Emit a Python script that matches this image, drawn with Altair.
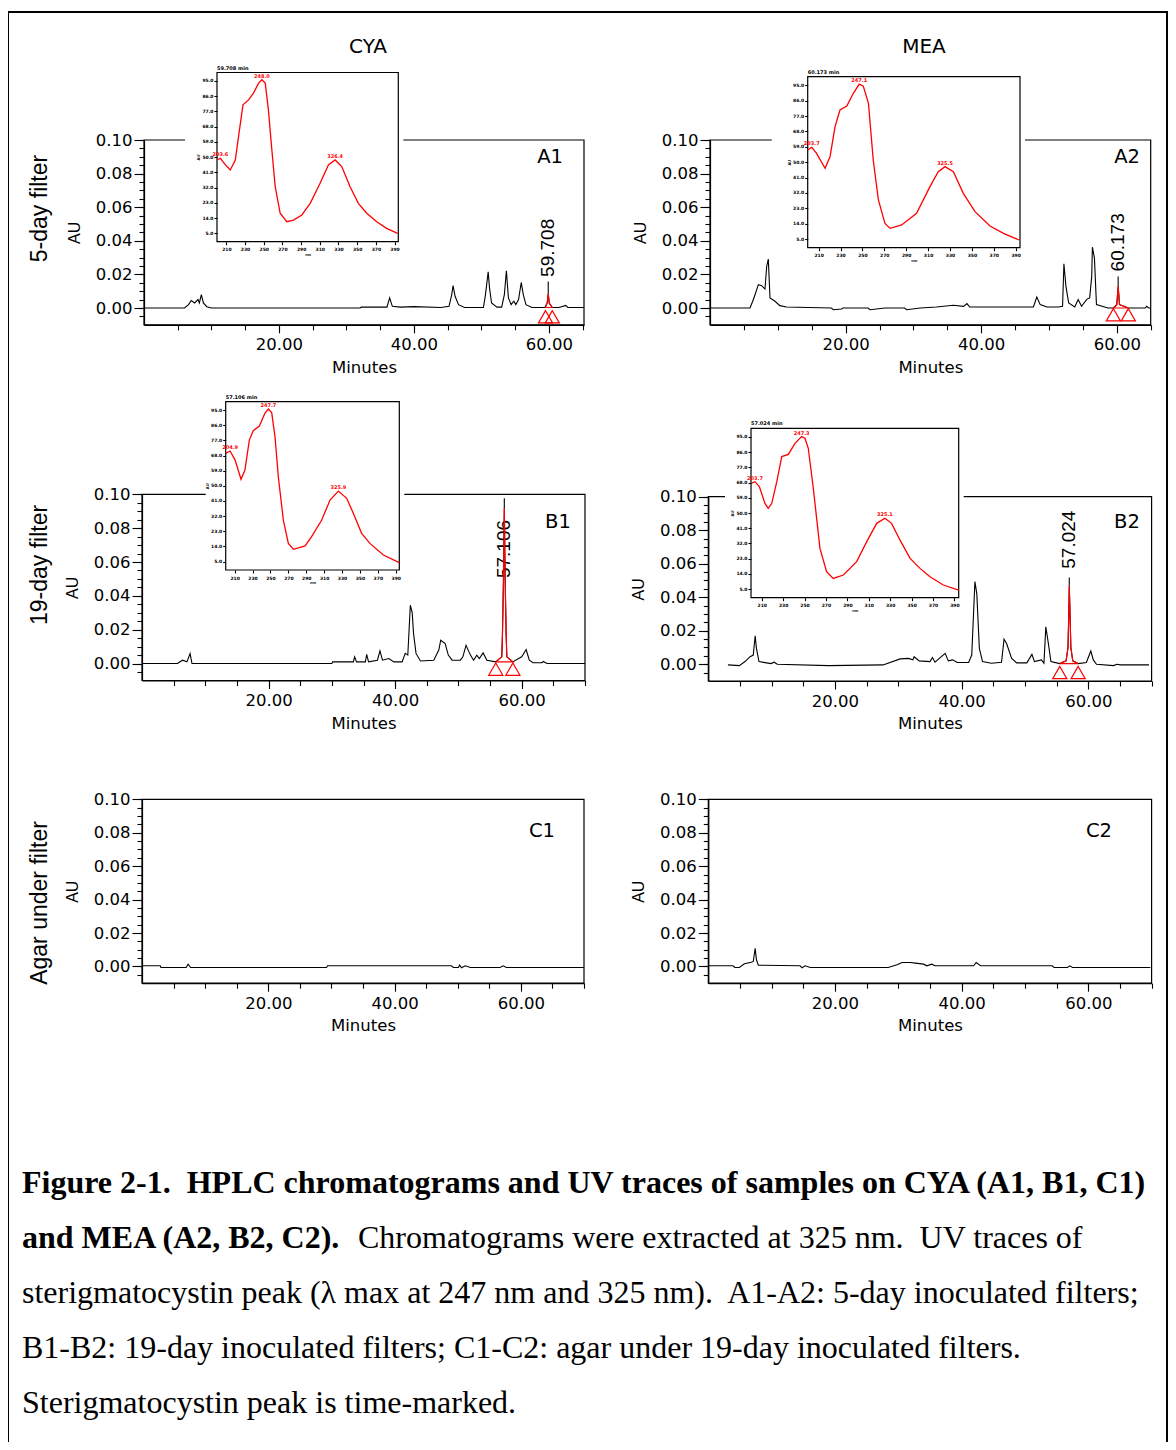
import altair as alt
import pandas as pd

# ---------------- chromatogram traces (minutes, AU) ----------------
A1_t = [0, 6.0, 6.6, 7.0, 7.5, 8.0, 8.2, 8.5, 8.8, 9.3, 10.0, 32.0, 32.2, 36.0, 36.4, 36.8, 38.0, 40.0, 44.0, 45.2,
        45.6, 45.8, 46.1, 46.6, 47.5, 50.3, 50.6, 51.0, 51.2, 51.5, 52.3, 53.0, 53.4, 53.7, 54.0, 54.4, 54.8, 55.1, 55.5, 55.9,
        56.2, 56.6, 57.5, 59.4, 59.75, 59.9, 60.05, 60.5, 61.5, 62.5, 62.8, 65.2]
A1_v = [0, 0, 0.002, 0.0045, 0.003, 0.005, 0.003, 0.008, 0.003, 0.0008, 0, 0, 0.0005, 0.0005, 0.006, 0.001, 0.0005, 0.0008, 0.0003, 0.001,
        0.008, 0.0133, 0.007, 0.002, 0.0003, 0.0003, 0.008, 0.0216, 0.012, 0.003, 0.0005, 0.0005, 0.008, 0.0222, 0.006, 0.002, 0.004, 0.002, 0.005, 0.0152,
        0.008, 0.002, 0.0003, 0.0003, 0.003, 0.0085, 0.003, 0.0003, 0.0003, 0.0015, 0.0003, 0.0003]

A2_t = [0, 5.9, 6.3, 6.64, 7.13, 7.62, 8.11, 8.36, 8.6, 8.85, 9.59, 10.3, 11.3, 17.9, 18.2, 19.4, 19.6, 23.3, 23.6, 25.8,
        28.7, 29.0, 31.0, 33.4, 35.9, 37.4, 37.9, 38.3, 47.7, 48.2, 48.7, 49.7, 51.4, 52.0, 52.2, 52.5, 52.9, 53.8, 54.3, 54.8,
        55.6, 56.0, 56.3, 56.4, 56.7, 57.0, 58.7, 59.5, 60.0, 60.2, 60.4, 61.7, 64.2, 64.4, 64.7, 65.0]
A2_v = [0, 0, 0.004, 0.0079, 0.0139, 0.0133, 0.0113, 0.0247, 0.0291, 0.006, 0.004, 0.0014, 0.0006, 0.0, -0.001, -0.0006, 0.0, 0.0, -0.001, 0.0,
        0.0, -0.001, 0.0, 0.0006, 0.0016, 0.001, 0.0026, 0.0006, 0.0006, 0.0065, 0.002, 0.0006, 0.0006, 0.001, 0.0263, 0.0129, 0.003, 0.0006, 0.005, 0.001,
        0.0053, 0.006, 0.0188, 0.0362, 0.0297, 0.002, 0.0, 0.0, 0.002, 0.0129, 0.002, 0.0, 0.0, 0.001, 0.0, 0.0]

B1_t = [0, 5.6, 6.4, 7.1, 7.6, 7.9, 30.0, 30.1, 33.4, 33.6, 33.9, 35.3, 35.5, 35.8, 37.2, 37.6, 38.0, 39.0, 39.8, 41.1,
        41.6, 42.0, 42.4, 42.7, 42.9, 43.3, 44.0, 46.1, 46.9, 47.2, 47.9, 48.4, 49.0, 50.3, 50.7, 51.2, 51.9, 52.4, 52.9, 53.3,
        53.9, 54.5, 55.9, 56.85, 56.95, 57.12, 57.25, 57.38, 57.55, 57.65, 58.6, 59.5, 60.0, 60.7, 61.2, 61.8, 63.2, 63.4, 64.0, 70.0]
B1_v = [0, 0, 0.002, 0.001, 0.0059, 0, 0, 0.001, 0.001, 0.004, 0.001, 0.001, 0.0055, 0.001, 0.002, 0.0075, 0.002, 0.003, 0.001, 0.001,
        0.006, 0.005, 0.0345, 0.030, 0.018, 0.006, 0.0015, 0.002, 0.008, 0.0138, 0.0118, 0.005, 0.002, 0.002, 0.004, 0.0108, 0.005, 0.002, 0.005, 0.003,
        0.0063, 0.002, 0.001, 0.004, 0.016, 0.05, 0.0917, 0.05, 0.016, 0.004, 0.001, 0.003, 0.004, 0.0083, 0.002, 0.0005, 0.0005, 0.0012, 0, 0]

B2_t = [3.1, 4.9, 5.8, 6.6, 7.1, 7.4, 7.6, 8.0, 9.9, 10.4, 10.9, 19.0, 27.6, 30.3, 31.6, 32.3, 32.5, 33.3, 35.0, 35.4,
        35.8, 37.4, 37.9, 38.6, 39.3, 41.1, 41.6, 42.1, 42.4, 42.8, 43.3, 44.7, 46.3, 46.7, 47.1, 47.9, 48.7, 50.3, 51.1, 51.5,
        52.6, 53.0, 53.3, 53.7, 54.1, 55.5, 56.5, 56.8, 56.92, 57.0, 57.12, 57.25, 57.55, 58.4, 59.7, 60.4, 60.8, 61.3, 64.0, 64.5,
        65.1, 69.6]
B2_v = [-0.0004, -0.0008, 0.0016, 0.0045, 0.0055, 0.017, 0.0095, 0.0016, 0.0004, 0.0012, 0.0, -0.0008, -0.0004, 0.0032, 0.0035, 0.0026, 0.0045, 0.002, 0.0016, 0.004,
        0.0012, 0.0065, 0.002, 0.0026, 0.001, 0.001, 0.0055, 0.0494, 0.042, 0.0095, 0.0016, 0.0006, 0.0012, 0.015, 0.0124, 0.0035, 0.0008, 0.0008, 0.0059, 0.0016,
        0.0026, 0.0006, 0.0223, 0.0124, 0.0016, 0.0004, 0.002, 0.01, 0.03, 0.0469, 0.03, 0.01, 0.002, 0.0004, 0.001, 0.0079, 0.0026, 0.0, -0.0008, 0.0,
        -0.0004, -0.0004]

C1_t = [0, 2.9, 3.0, 7.0, 7.3, 7.7, 29.2, 29.4, 49.0, 49.3, 50.1, 50.3, 50.6, 51.2, 52.0, 56.7, 57.2, 57.7, 70]
C1_v = [0.0004, 0.0004, -0.0006, -0.0006, 0.0014, -0.0006, -0.0006, 0.0004, 0.0004, -0.0006, -0.0006, 0.0008, -0.0008,
        0.0004, -0.0006, -0.0006, 0.0004, -0.0006, -0.0006]

C2_t = [0, 3.9, 4.2, 4.9, 5.7, 6.8, 7.1, 7.4, 7.6, 7.9, 14.5, 14.8, 15.3, 16.1, 28.4, 29.8, 30.6, 31.9, 32.7, 34.0,
        34.5, 35.3, 35.8, 41.9, 42.3, 43.0, 54.3, 54.6, 56.7, 57.1, 57.5, 69.8]
C2_v = [0.0004, 0.0004, -0.0006, -0.0006, 0.0016, 0.0025, 0.003, 0.0108, 0.004, 0.0008, 0.0004, -0.0008, 0.0004, -0.0006, -0.0006, 0.001, 0.0024, 0.0024, 0.002, 0.0014,
        0.0004, 0.0014, 0.0004, 0.0004, 0.0024, 0.0004, 0.0004, -0.0006, -0.0006, 0.0004, -0.0006, -0.0006]

# ---------------- sterigmatocystin peak (red outline, markers, time label) ----------------
A1_red_t = [59.5, 59.75, 59.9, 60.05, 60.5, 59.5]
A1_red_v = [0.0003, 0.003, 0.0085, 0.003, 0.0003, 0.0003]
A2_red_t = [59.5, 60.0, 60.2, 60.4, 61.7, 59.5]
A2_red_v = [0.0, 0.002, 0.0129, 0.002, 0.0, 0.0]
B1_red_t = [55.9, 56.85, 56.95, 57.12, 57.25, 57.38, 57.55, 57.65, 58.6, 55.9]
B1_red_v = [0.001, 0.004, 0.016, 0.05, 0.0917, 0.05, 0.016, 0.004, 0.001, 0.001]
B2_red_t = [55.5, 56.5, 56.8, 56.92, 57.0, 57.12, 57.25, 57.55, 58.4, 55.5]
B2_red_v = [0.0004, 0.002, 0.01, 0.03, 0.0469, 0.03, 0.01, 0.002, 0.0004, 0.0004]

MARK_T = {"A1": [59.5, 60.5], "A2": [59.5, 61.7], "B1": [55.9, 58.6], "B2": [55.5, 58.4]}
MARK_V = {"A1": -0.0052, "A2": -0.004, "B1": -0.0033, "B2": -0.0049}
APEX_T = {"A1": 59.9, "A2": 60.2, "B1": 57.25, "B2": 57.0}
APEX_V = {"A1": 0.0085, "A2": 0.0129, "B1": 0.0917, "B2": 0.0469}
LEADER_TOP = {"A1": 0.0157, "A2": 0.0188, "B1": 0.0976, "B2": 0.0518}
LABEL_AT = {"A1": 0.0185, "A2": 0.0218, "B1": 0.0505, "B2": 0.057}
RT_LABEL = {"A1": "59.708", "A2": "60.173", "B1": "57.106", "B2": "57.024"}

# ---------------- UV spectra insets (nm, % of full scale) ----------------
SA1_nm = [200, 203.6, 209, 214.2, 219.6, 223, 227.8, 233.8, 239, 244.5, 248, 251.6, 255, 258.7, 262.3, 267.6, 274.7,
          281.9, 290.8, 299.7, 310.3, 319.2, 326.4, 333.5, 342.4, 351.3, 360.2, 370.9, 381.5, 393.3]
SA1_p = [48.3, 49.3, 45.4, 42.4, 48.3, 62, 80.9, 83.8, 87.8, 93.7, 95.7, 93.7, 77.9, 54.2, 32.5, 16.8, 11.8,
         12.8, 15.8, 22.7, 34.5, 45.4, 48.3, 44.4, 32.5, 22.7, 16.8, 11.8, 7.9, 4.9]
SA2_nm = [200, 203.7, 208.1, 215.9, 220.4, 225.0, 229.5, 235.7, 241.7, 247.1, 250.8, 255.5, 259.9, 264.6, 270.6,
          275.3, 285.9, 299.5, 311.7, 319.3, 325.5, 333.1, 342.2, 352.9, 366.6, 378.9, 393.4]
SA2_p = [57.1, 58.7, 55.2, 46.4, 53.2, 70.8, 80.5, 82.8, 90.3, 95.7, 94.5, 84.4, 51.3, 27.9, 14.2,
         11.3, 13.3, 20.1, 35.7, 44.4, 47.4, 44.4, 31.8, 21.1, 12.7, 8.4, 4.5]
SB1_nm = [200, 204.9, 210.5, 217.1, 221.5, 226.4, 230.8, 237.6, 243.8, 247.7, 251.4, 255.1, 258.8, 264.4, 270.0,
          275.7, 288.7, 296.0, 307.3, 316.6, 325.9, 335.2, 342.6, 351.9, 361.2, 376.2, 394]
SB1_p = [69.3, 70.7, 65.3, 53.9, 59.4, 77.2, 82.8, 85.5, 93.1, 95.6, 93.5, 79.2, 55.4, 29.7, 15.8,
         12.3, 14.3, 19.8, 29.7, 41.6, 46.9, 42.6, 33.7, 21.8, 15.8, 8.9, 4.4]
SB2_nm = [200, 203.7, 207.8, 213.0, 216.1, 219.4, 224.1, 228.7, 234.9, 241.1, 247.3, 250.4, 253.5, 258.2, 264.4,
          270.6, 276.8, 286.3, 298.7, 308.1, 317.4, 325.1, 331.3, 339.1, 348.6, 357.9, 367.2, 379.6, 394]
SB2_p = [67.5, 68.5, 65.6, 55.7, 52.8, 55.7, 68.5, 83.3, 84.6, 91.1, 95.1, 94.1, 88.2, 64.6, 29.1,
         15.4, 11.4, 13.4, 21.3, 33.1, 43.9, 46.9, 43.9, 34.1, 23.2, 17.3, 12.4, 7.5, 4.5]
SPEC_PEAK_NM = {"A1": [203.6, 248.0, 326.4], "A2": [203.7, 247.1, 325.5], "B1": [204.9, 247.7, 325.9], "B2": [203.7, 247.3, 325.1]}
SPEC_PEAK_P = {"A1": [49.3, 95.7, 48.3], "A2": [58.7, 95.7, 47.4], "B1": [70.7, 95.6, 46.9], "B2": [68.5, 95.1, 46.9]}

# ---------------- text ----------------
COL_TITLES = ["CYA", "MEA"]
ROW_TITLES = ["5-day filter", "19-day filter", "Agar under filter"]
CAP_BOLD = ["Figure 2-1.\u00a0 HPLC chromatograms and UV traces of samples on CYA (A1, B1, C1)",
            "and MEA (A2, B2, C2)."]
CAP_NORMAL = ["Chromatograms were extracted at 325 nm.\u00a0 UV traces of",
              "sterigmatocystin peak (\u03bb max at 247 nm and 325 nm).\u00a0 A1-A2: 5-day inoculated filters;",
              "B1-B2: 19-day inoculated filters; C1-C2: agar under 19-day inoculated filters.",
              "Sterigmatocystin peak is time-marked."]

# ---------------- layout (page pixels) ----------------
OX, OY = 8, 12
W, H = 1159, 1430
YDOM = [-0.01, 0.10]
NMDOM = [200, 394]
PDOM = [0, 100]
LAY = {
    "A1": dict(xdom=[0, 65.2], xr=(144, 584), yr=(324.8, 140.0), mmax=65, letter=(550, 157)),
    "A2": dict(xdom=[0, 65.0], xr=(710, 1150.7), yr=(324.8, 140.0), mmax=65, letter=(1127, 157)),
    "B1": dict(xdom=[0, 70], xr=(142, 585), yr=(680.5, 494.3), mmax=70, letter=(558, 522)),
    "B2": dict(xdom=[0, 70], xr=(708.3, 1151.6), yr=(681.0, 496.7), mmax=70, letter=(1127, 522)),
    "C1": dict(xdom=[0, 70], xr=(142, 584), yr=(983.2, 799.3), mmax=70, letter=(542, 831)),
    "C2": dict(xdom=[0, 70], xr=(708.3, 1151.6), yr=(983.2, 799.3), mmax=70, letter=(1099, 831)),
}
INSET = {
    "A1": dict(box=(217, 398.3, 72.5, 241.7), gap=32),
    "A2": dict(box=(807.7, 1020, 76.7, 247.7), gap=36),
    "B1": dict(box=(225.7, 399.3, 401.7, 570), gap=20),
    "B2": dict(box=(751, 958.7, 428.3, 597.7), gap=26),
}
TRACES = {"A1": (A1_t, A1_v), "A2": (A2_t, A2_v), "B1": (B1_t, B1_v), "B2": (B2_t, B2_v),
          "C1": (C1_t, C1_v), "C2": (C2_t, C2_v)}
REDS = {"A1": (A1_red_t, A1_red_v), "A2": (A2_red_t, A2_red_v), "B1": (B1_red_t, B1_red_v), "B2": (B2_red_t, B2_red_v)}
SPECTRA = {"A1": (SA1_nm, SA1_p), "A2": (SA2_nm, SA2_p), "B1": (SB1_nm, SB1_p), "B2": (SB2_nm, SB2_p)}

ONE = pd.DataFrame({"k": [0]})
SANS = "DejaVu Sans"
NARROW = "Liberation Sans"
SERIF = "Liberation Serif"


def sx(dom, r0, r1):
    return alt.Scale(domain=list(dom), range=[r0 - OX, r1 - OX], nice=False, zero=False)


def sy(dom, r0, r1):
    return alt.Scale(domain=list(dom), range=[r0 - OY, r1 - OY], nice=False, zero=False)


def text_at(txt, x, y, size, font=SANS, weight="normal", align="center", baseline="middle", angle=0, color="black"):
    kw = dict(font=font, fontSize=size, fontWeight=weight, align=align, baseline=baseline, color=color)
    if angle:
        kw["angle"] = angle
    return alt.Chart(ONE).mark_text(**kw).encode(
        x=alt.value(x - OX), y=alt.value(y - OY), text=alt.value(txt))


layers = []

# outer frame of the figure (no fill so the axes drawn underneath stay visible)
layers.append(alt.Chart(ONE).mark_rect(fill="transparent", stroke="black", strokeWidth=2).encode(
    x=alt.value(0), x2=alt.value(W), y=alt.value(0), y2=alt.value(H + 30)))

# ---------------- main chromatogram panels ----------------
for key, lay in LAY.items():
    xsc = sx(lay["xdom"], *lay["xr"])
    ysc = sy(YDOM, *lay["yr"])
    frame = pd.DataFrame({"x0": [lay["xdom"][0]], "x1": [lay["xdom"][1]], "y0": [YDOM[0]], "y1": [YDOM[1]]})
    layers.append(alt.Chart(frame).mark_rect(fill="transparent", stroke="black", strokeWidth=1.2).encode(
        x=alt.X("x0:Q", scale=xsc, axis=None), x2=alt.X2("x1"),
        y=alt.Y("y0:Q", scale=ysc, axis=None), y2=alt.Y2("y1")))

    major_x = alt.Axis(orient="bottom", offset=(lay["yr"][0] - OY) - H, values=[20, 40, 60], format=".2f",
                       tickSize=8, labelPadding=4, labelFont=SANS, labelFontSize=16.5,
                       title="Minutes", titleFont=SANS, titleFontSize=16.5, titleFontWeight="normal",
                       titlePadding=6, labelFlush=False, labelOverlap=False, grid=False)
    major_y = alt.Axis(orient="left", offset=-(lay["xr"][0] - OX), values=[0, 0.02, 0.04, 0.06, 0.08, 0.10],
                       format=".2f", tickSize=10, labelPadding=2, labelFont=SANS, labelFontSize=16.5,
                       title="AU", titleFont=NARROW, titleFontSize=16, titleFontWeight="normal",
                       titlePadding=13, labelFlush=False, labelOverlap=False, grid=False)
    t, v = TRACES[key]
    layers.append(alt.Chart(pd.DataFrame({"t": t, "v": v})).mark_line(color="black", strokeWidth=1.1).encode(
        x=alt.X("t:Q", scale=xsc, axis=major_x), y=alt.Y("v:Q", scale=ysc, axis=major_y)))

    minor_x = alt.Axis(orient="bottom", offset=(lay["yr"][0] - OY) - H,
                       values=list(range(5, lay["mmax"] + 1, 5)), labels=False, domain=False,
                       tickSize=5, title=None, grid=False)
    minor_y = alt.Axis(orient="left", offset=-(lay["xr"][0] - OX),
                       values=[round(-0.005 + 0.005 * i, 3) for i in range(22)], labels=False, domain=False,
                       tickSize=5, title=None, grid=False)
    layers.append(alt.Chart(pd.DataFrame({"t": [lay["xdom"][0]], "v": [0.0]})).mark_point(opacity=0).encode(
        x=alt.X("t:Q", scale=xsc, axis=minor_x), y=alt.Y("v:Q", scale=ysc, axis=minor_y)))

    if key in REDS:
        lab = pd.DataFrame({"t": [APEX_T[key]], "v": [LABEL_AT[key]], "s": [RT_LABEL[key]]})
        layers.append(alt.Chart(lab).mark_text(angle=270, align="left", baseline="middle", font=NARROW,
                                               fontSize=19, color="black").encode(
            x=alt.X("t:Q", scale=xsc, axis=None), y=alt.Y("v:Q", scale=ysc, axis=None), text="s:N"))
        lead = pd.DataFrame({"t": [APEX_T[key]], "v0": [APEX_V[key]], "v1": [LEADER_TOP[key]]})
        layers.append(alt.Chart(lead).mark_rule(color="black", strokeWidth=1.1).encode(
            x=alt.X("t:Q", scale=xsc, axis=None), y=alt.Y("v0:Q", scale=ysc, axis=None), y2=alt.Y2("v1")))
        rt, rv = REDS[key]
        layers.append(alt.Chart(pd.DataFrame({"t": rt, "v": rv, "i": list(range(len(rt)))})).mark_line(
            color="red", strokeWidth=1.2).encode(
            x=alt.X("t:Q", scale=xsc, axis=None), y=alt.Y("v:Q", scale=ysc, axis=None), order="i:Q"))
        tri = pd.DataFrame({"t": MARK_T[key], "v": [MARK_V[key]] * len(MARK_T[key])})
        layers.append(alt.Chart(tri).mark_point(shape="triangle-up", filled=False, size=200, color="red",
                                                strokeWidth=1.2, opacity=1).encode(
            x=alt.X("t:Q", scale=xsc, axis=None), y=alt.Y("v:Q", scale=ysc, axis=None)))

    layers.append(text_at(key, lay["letter"][0], lay["letter"][1], 19.5))

# ---------------- UV spectrum insets ----------------
for key, ins in INSET.items():
    fl, fr, ft, fb = ins["box"]
    xsc = sx(NMDOM, fl, fr)
    ysc = sy(PDOM, fb, ft)
    layers.append(alt.Chart(ONE).mark_rect(fill="white", strokeWidth=0).encode(
        x=alt.value(fl - ins["gap"] - OX), x2=alt.value(fr + 5 - OX),
        y=alt.value(ft - 9 - OY), y2=alt.value(fb + 16 - OY)))
    fr_df = pd.DataFrame({"x0": [NMDOM[0]], "x1": [NMDOM[1]], "y0": [PDOM[0]], "y1": [PDOM[1]]})
    layers.append(alt.Chart(fr_df).mark_rect(fill="transparent", stroke="black", strokeWidth=1.2).encode(
        x=alt.X("x0:Q", scale=xsc, axis=None), x2=alt.X2("x1"),
        y=alt.Y("y0:Q", scale=ysc, axis=None), y2=alt.Y2("y1")))
    ax_x = alt.Axis(orient="bottom", offset=(fb - OY) - H, values=list(range(210, 391, 20)), format="d",
                    tickSize=3, labelFont=SANS, labelFontSize=4.5, labelFontWeight="bold", labelPadding=2,
                    title="nm", titleFontSize=4, titlePadding=1, domain=False, zindex=1, grid=False,
                    labelOverlap=False)
    ax_y = alt.Axis(orient="left", offset=-(fl - OX), values=list(range(5, 96, 9)), format=".1f",
                    tickSize=3, labelFont=SANS, labelFontSize=4.5, labelFontWeight="bold", labelPadding=1,
                    title="AU", titleFontSize=4, titlePadding=1, domain=False, zindex=1, grid=False,
                    labelOverlap=False)
    nm, p = SPECTRA[key]
    layers.append(alt.Chart(pd.DataFrame({"nm": nm, "p": p})).mark_line(color="red", strokeWidth=1.3).encode(
        x=alt.X("nm:Q", scale=xsc, axis=ax_x), y=alt.Y("p:Q", scale=ysc, axis=ax_y)))
    pk = pd.DataFrame({"nm": SPEC_PEAK_NM[key], "p": SPEC_PEAK_P[key],
                       "s": [f"{x:.1f}" for x in SPEC_PEAK_NM[key]]})
    layers.append(alt.Chart(pk).mark_text(color="red", fontSize=5, fontWeight="bold", font=SANS,
                                          baseline="bottom", dy=-1).encode(
        x=alt.X("nm:Q", scale=xsc, axis=None), y=alt.Y("p:Q", scale=ysc, axis=None), text="s:N"))
    layers.append(text_at(RT_LABEL[key] + " min", fl, ft - 2, 5, weight="bold", align="left",
                          baseline="bottom"))

# ---------------- titles, row labels, caption ----------------
layers.append(text_at(COL_TITLES[0], 368, 47, 20))
layers.append(text_at(COL_TITLES[1], 924, 47, 20))
for txt, yc in zip(ROW_TITLES, [208.5, 565, 903]):
    layers.append(text_at(txt, 40, yc, 23, font=NARROW, angle=270))

CAP_Y = [1193, 1248, 1303, 1358, 1413]
layers.append(text_at(CAP_BOLD[0], 22, CAP_Y[0], 32, font=SERIF, weight="bold", align="left", baseline="alphabetic"))
layers.append(text_at(CAP_BOLD[1], 22, CAP_Y[1], 32, font=SERIF, weight="bold", align="left", baseline="alphabetic"))
layers.append(text_at(CAP_NORMAL[0], 358, CAP_Y[1], 32, font=SERIF, align="left", baseline="alphabetic"))
for txt, yb in zip(CAP_NORMAL[1:], CAP_Y[2:]):
    layers.append(text_at(txt, 22, yb, 32, font=SERIF, align="left", baseline="alphabetic"))

chart = alt.layer(*layers).resolve_scale(x="independent", y="independent").properties(
    width=W, height=H,
    padding={"left": 0, "top": 4, "right": 1, "bottom": 0},
    autosize=alt.AutoSizeParams(type="none"),
    background="white",
).configure_view(stroke=None).configure_axis(
    domainColor="black", tickColor="black", labelColor="black", titleColor="black",
    domainWidth=1.2, tickWidth=1.1, grid=False,
)

chart.save("out.html", embed_options={"renderer": "svg", "actions": False})
